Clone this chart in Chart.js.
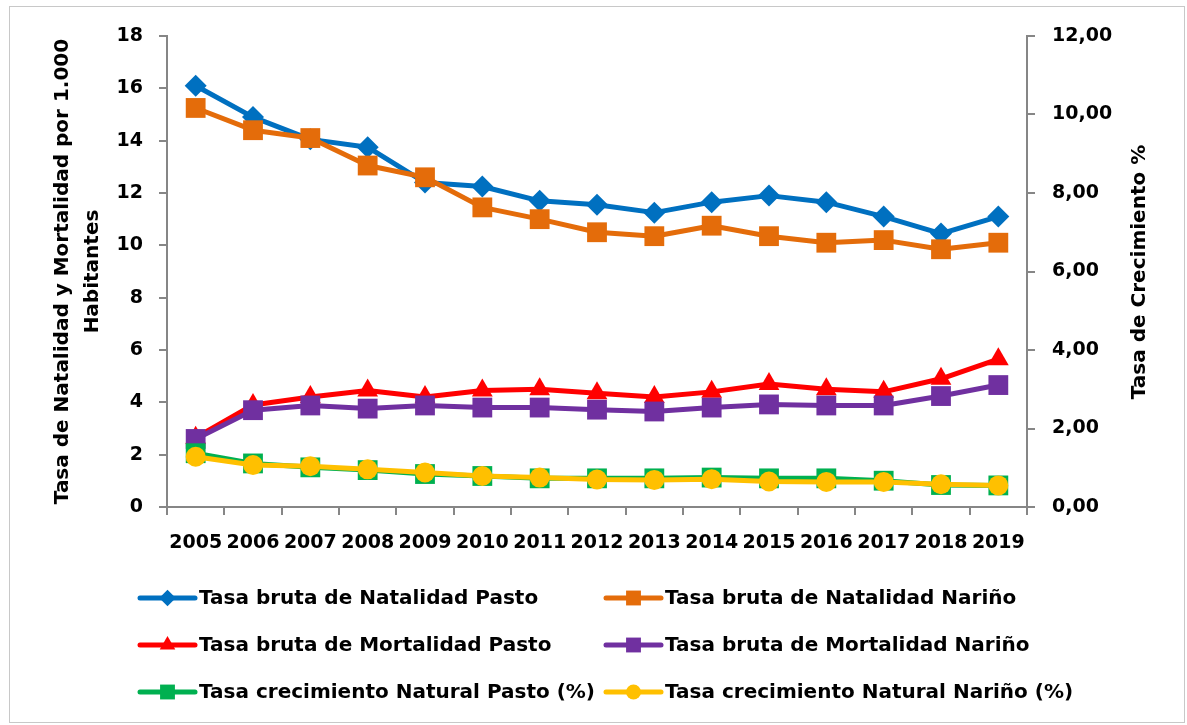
<!DOCTYPE html>
<html>
<head>
<meta charset="utf-8">
<script src="https://cdn.jsdelivr.net/npm/chart.js@4.4.1/dist/chart.umd.min.js"></script>
<style>
  html, body { margin: 0; padding: 0; background: #fff; }
  canvas { display: block; }
</style>
</head>
<body>
<canvas id="tasasChart" width="1187" height="725"></canvas>
<script>
// datos
const years = ['2005', '2006', '2007', '2008', '2009', '2010', '2011', '2012', '2013', '2014', '2015', '2016', '2017', '2018', '2019'];
const natalidadPasto = [16.1, 14.9, 14.05, 13.75, 12.4, 12.25, 11.7, 11.55, 11.25, 11.65, 11.9, 11.65, 11.1, 10.45, 11.1];
const natalidadNarino = [15.25, 14.4, 14.1, 13.05, 12.6, 11.45, 11.0, 10.5, 10.35, 10.75, 10.35, 10.1, 10.2, 9.85, 10.1];
const mortalidadPasto = [2.65, 3.9, 4.2, 4.45, 4.2, 4.45, 4.5, 4.35, 4.2, 4.4, 4.7, 4.5, 4.4, 4.9, 5.65];
const mortalidadNarino = [2.6, 3.7, 3.88, 3.76, 3.88, 3.8, 3.8, 3.72, 3.65, 3.8, 3.92, 3.88, 3.88, 4.24, 4.66];
const crecimientoPasto = [1.37, 1.11, 1.01, 0.94, 0.84, 0.79, 0.73, 0.73, 0.73, 0.75, 0.73, 0.73, 0.67, 0.56, 0.55];
const crecimientoNarino = [1.28, 1.07, 1.04, 0.96, 0.88, 0.79, 0.75, 0.70, 0.69, 0.71, 0.65, 0.64, 0.64, 0.58, 0.55];
const leftTicks = [0, 2, 4, 6, 8, 10, 12, 14, 16, 18];
const rightTicks = [0, 2, 4, 6, 8, 10, 12];

const FONT = '"DejaVu Sans", sans-serif';
const AXIS = '#868686';

function serie(label, data, color, style, radius, axis, i) {
  return {
    label: label,
    data: data,
    yAxisID: axis,
    borderColor: color,
    backgroundColor: color,
    borderWidth: 5,
    borderJoinStyle: 'round',
    borderCapStyle: 'round',
    pointStyle: style,
    pointRadius: radius,
    pointHoverRadius: radius,
    pointBorderWidth: 0,
    pointBackgroundColor: color,
    tension: 0,
    order: 5 - i // la última serie queda encima
  };
}

const datasets = [
  serie('Tasa bruta de Natalidad Pasto', natalidadPasto, '#0070C0', 'rectRot', 11, 'y', 0),
  serie('Tasa bruta de Natalidad Nariño', natalidadNarino, '#E46C0A', 'rect', 14, 'y', 1),
  serie('Tasa bruta de Mortalidad Pasto', mortalidadPasto, '#FF0000', 'triangle', 12, 'y', 2),
  serie('Tasa bruta de Mortalidad Nariño', mortalidadNarino, '#7030A0', 'rect', 14, 'y', 3),
  serie('Tasa crecimiento Natural Pasto (%)', crecimientoPasto, '#00B050', 'rect', 14, 'y1', 4),
  serie('Tasa crecimiento Natural Nariño (%)', crecimientoNarino, '#FFC000', 'circle', 10, 'y1', 5)
];

// borde del gráfico, título derecho y leyenda en dos columnas
const extras = {
  id: 'extras',
  beforeDraw(chart) {
    const ctx = chart.ctx;
    ctx.save();
    ctx.strokeStyle = '#c8c8c8';
    ctx.lineWidth = 1;
    ctx.strokeRect(9.5, 6.5, 1175, 716);
    ctx.restore();
  },
  afterDraw(chart) {
    const ctx = chart.ctx;
    ctx.save();
    ctx.fillStyle = '#000';
    ctx.font = 'bold 20px ' + FONT;
    ctx.translate(1140, 272);
    ctx.rotate(-Math.PI / 2);
    ctx.textAlign = 'center';
    ctx.textBaseline = 'middle';
    ctx.fillText('Tasa de Crecimiento %', 0, 0);
    ctx.restore();

    const colX = [140, 606];
    const rowY = [598, 645, 692];
    chart.data.datasets.forEach((ds, i) => {
      const x = colX[i % 2];
      const y = rowY[Math.floor(i / 2)];
      ctx.save();
      ctx.strokeStyle = ds.borderColor;
      ctx.lineWidth = 5;
      ctx.lineCap = 'round';
      ctx.beginPath();
      ctx.moveTo(x, y);
      ctx.lineTo(x + 55, y);
      ctx.stroke();
      ctx.fillStyle = ds.backgroundColor;
      Chart.helpers.drawPoint(ctx, {pointStyle: ds.pointStyle, radius: ds.pointRadius * 0.75, rotation: 0, borderWidth: 0}, x + 27.5, y);
      ctx.fillStyle = '#000';
      ctx.font = 'bold 20px ' + FONT;
      ctx.textAlign = 'left';
      ctx.textBaseline = 'middle';
      ctx.fillText(ds.label, x + 59, y + 1);
      ctx.restore();
    });
  }
};

const tickFont = {family: FONT, size: 19, weight: 'bold'};

new Chart(document.getElementById('tasasChart'), {
  type: 'line',
  data: {labels: years, datasets: datasets},
  plugins: [extras],
  options: {
    responsive: false,
    animation: false,
    devicePixelRatio: 1,
    layout: {padding: {left: 0, right: 0, top: 36, bottom: 168}},
    plugins: {
      legend: {display: false},
      tooltip: {enabled: false}
    },
    scales: {
      x: {
        offset: true,
        grid: {offset: true, drawOnChartArea: false, tickLength: 8, color: AXIS, lineWidth: 2},
        border: {color: AXIS, width: 2},
        ticks: {color: '#000', font: tickFont, autoSkip: false, maxRotation: 0, padding: 17},
        afterFit(scale) { scale.height = 50; }
      },
      y: {
        position: 'left',
        min: 0,
        max: 18,
        afterBuildTicks(scale) { scale.ticks = leftTicks.map(v => ({value: v})); },
        grid: {drawOnChartArea: false, tickLength: 8, color: AXIS, lineWidth: 2},
        border: {color: AXIS, width: 2},
        ticks: {color: '#000', font: tickFont, padding: 16},
        title: {
          display: true,
          text: ['Tasa de Natalidad y Mortalidad por 1.000', 'Habitantes'],
          color: '#000',
          font: {family: FONT, size: 20, weight: 'bold', lineHeight: 1.5},
          padding: {top: 48, bottom: 0}
        },
        afterFit(scale) { scale.width = 167; }
      },
      y1: {
        position: 'right',
        min: 0,
        max: 12,
        afterBuildTicks(scale) { scale.ticks = rightTicks.map(v => ({value: v})); },
        grid: {drawOnChartArea: false, tickLength: 8, color: AXIS, lineWidth: 2},
        border: {color: AXIS, width: 2},
        ticks: {
          color: '#000',
          font: tickFont,
          padding: 17,
          callback: v => v.toFixed(2).replace('.', ',')
        },
        afterFit(scale) { scale.width = 160; }
      }
    }
  }
});
</script>
</body>
</html>
